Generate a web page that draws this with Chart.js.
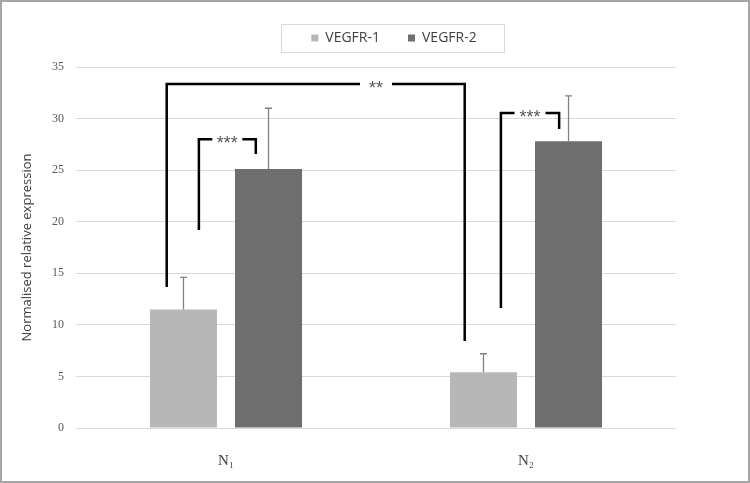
<!DOCTYPE html>
<html>
<head>
<meta charset="utf-8">
<script src="https://cdn.jsdelivr.net/npm/chart.js@4.4.1/dist/chart.umd.min.js"></script>
<style>
  html, body { margin: 0; padding: 0; background: #fff; }
  #wrap { width: 750px; height: 483px; position: relative; }
</style>
</head>
<body>
<div id="wrap"><canvas id="myChart"></canvas></div>
<script>
const categories = ['N\u2081', 'N\u2082'];
const vegfr1 = [11.5, 5.4];
const vegfr1Err = [3.1, 1.8];
const vegfr2 = [25.1, 27.8];
const vegfr2Err = [5.9, 4.4];
const yMin = 0;
const yMax = 35;
const yStep = 5;

// significance brackets, ends as [dataset, category, offset in bar widths], heights in data units
const brackets = [
  {label: '**', left: [0, 0, -0.25], right: [0, 1, -0.28], top: 33.35, leftEnd: 13.67, rightEnd: 8.44, labelAt: 0.5, gap: 32},
  {label: '***', left: [0, 0, 0.23], right: [1, 0, -0.19], top: 28.0, leftEnd: 19.2, rightEnd: 26.57, gap: 30},
  {label: '***', left: [0, 1, 0.26], right: [1, 1, -0.14], top: 30.54, leftEnd: 11.63, rightEnd: 28.99, gap: 31},
];
const errors = [vegfr1Err, vegfr2Err];

const framePlugin = {
  id: 'frame',
  beforeDraw(chart) {
    const ctx = chart.ctx;
    ctx.save();
    ctx.fillStyle = '#fff';
    ctx.fillRect(0, 0, chart.width, chart.height);
    ctx.restore();
  },
  afterDraw(chart) {
    const ctx = chart.ctx;
    ctx.save();
    ctx.strokeStyle = '#a6a6a6';
    ctx.lineWidth = 2;
    ctx.strokeRect(1, 1, chart.width - 2, chart.height - 2);
    ctx.restore();
  },
};

const legendBoxPlugin = {
  id: 'legendBox',
  afterLayout(chart) {
    const lg = chart.legend;
    const dx = 394 - (lg.left + lg.right) / 2;
    lg.left += dx;
    lg.right += dx;
    lg.top -= 12;
    lg.bottom -= 12;
  },
  afterDraw(chart) {
    const boxes = chart.legend.legendHitBoxes;
    if (!boxes || !boxes.length) return;
    const x0 = Math.min(...boxes.map((b) => b.left));
    const x1 = Math.max(...boxes.map((b) => b.left + b.width));
    const cy = boxes[0].top + boxes[0].height / 2;
    const ctx = chart.ctx;
    ctx.save();
    ctx.strokeStyle = '#d9d9d9';
    ctx.lineWidth = 1;
    ctx.strokeRect(Math.round(x0 - 30) + 0.5, Math.round(cy - 14) + 0.5, Math.round(x1 - x0 + 58), 28);
    ctx.restore();
  },
};

const errorBarPlugin = {
  id: 'errorBars',
  afterDatasetsDraw(chart) {
    const ctx = chart.ctx;
    const y = chart.scales.y;
    ctx.save();
    ctx.strokeStyle = '#808080';
    ctx.lineWidth = 1.3;
    chart.data.datasets.forEach((ds, i) => {
      chart.getDatasetMeta(i).data.forEach((bar, j) => {
        const yTop = y.getPixelForValue(ds.data[j] + errors[i][j]);
        ctx.beginPath();
        ctx.moveTo(bar.x, bar.y);
        ctx.lineTo(bar.x, yTop);
        ctx.moveTo(bar.x - 3.5, yTop);
        ctx.lineTo(bar.x + 3.5, yTop);
        ctx.stroke();
      });
    });
    ctx.restore();
  },
};

const bracketPlugin = {
  id: 'brackets',
  afterDatasetsDraw(chart) {
    const ctx = chart.ctx;
    const y = chart.scales.y;
    const xs = chart.scales.x;
    const px = (end) => {
      const bar = chart.getDatasetMeta(end[0]).data[end[1]];
      return bar.x + end[2] * bar.width;
    };
    ctx.save();
    ctx.font = '18px "Liberation Sans", Arial, sans-serif';
    brackets.forEach((b) => {
      const xl = px(b.left);
      const xr = px(b.right);
      const yt = y.getPixelForValue(b.top);
      const mid = b.labelAt !== undefined ? xs.getPixelForValue(b.labelAt) : (xl + xr) / 2;
      ctx.strokeStyle = '#000';
      ctx.lineWidth = 2.5;
      ctx.lineJoin = 'miter';
      ctx.beginPath();
      ctx.moveTo(xl, y.getPixelForValue(b.leftEnd));
      ctx.lineTo(xl, yt);
      ctx.lineTo(mid - b.gap / 2, yt);
      ctx.moveTo(mid + b.gap / 2, yt);
      ctx.lineTo(xr, yt);
      ctx.lineTo(xr, y.getPixelForValue(b.rightEnd));
      ctx.stroke();
      ctx.fillStyle = '#595959';
      ctx.textAlign = 'center';
      ctx.textBaseline = 'alphabetic';
      ctx.fillText(b.label, mid, yt + 10);
    });
    ctx.restore();
  },
};

const data = {
  labels: categories,
  datasets: [
    {
      label: 'VEGFR-1',
      data: vegfr1,
      backgroundColor: '#b7b7b7',
      borderWidth: 0,
    },
    {
      label: 'VEGFR-2',
      data: vegfr2,
      backgroundColor: '#6e6e6e',
      borderWidth: 0,
    },
  ],
};

const config = {
  type: 'bar',
  data: data,
  options: {
    responsive: true,
    maintainAspectRatio: false,
    animation: false,
    categoryPercentage: 0.567,
    barPercentage: 0.788,
    layout: {
      padding: {left: 19, right: 74, top: 15, bottom: 0},
    },
    plugins: {
      legend: {
        position: 'top',
        labels: {
          boxWidth: 7,
          boxHeight: 7,
          padding: 28,
          color: '#404040',
          font: {family: '"Open Sans", sans-serif', size: 14},
        },
      },
      tooltip: {enabled: false},
    },
    scales: {
      x: {
        grid: {display: false},
        border: {display: false},
        ticks: {
          color: '#404040',
          padding: 16,
          font: {family: '"Liberation Serif", "DejaVu Serif", serif', size: 15},
        },
        afterFit(scale) {
          scale.height = 55;
        },
      },
      y: {
        min: yMin,
        max: yMax,
        grid: {color: '#d9d9d9', drawTicks: false},
        border: {display: false},
        ticks: {
          stepSize: yStep,
          padding: 12,
          color: '#595959',
          font: {family: '"Liberation Serif", "DejaVu Serif", serif', size: 12},
        },
        title: {
          display: true,
          text: 'Normalised relative expression',
          color: '#404040',
          padding: {top: 0, bottom: 0},
          font: {family: '"Open Sans", sans-serif', size: 13},
        },
        afterFit(scale) {
          scale.width = 57;
        },
      },
    },
  },
  plugins: [framePlugin, legendBoxPlugin, errorBarPlugin, bracketPlugin],
};

const myChart = new Chart(document.getElementById('myChart'), config);
</script>
</body>
</html>
